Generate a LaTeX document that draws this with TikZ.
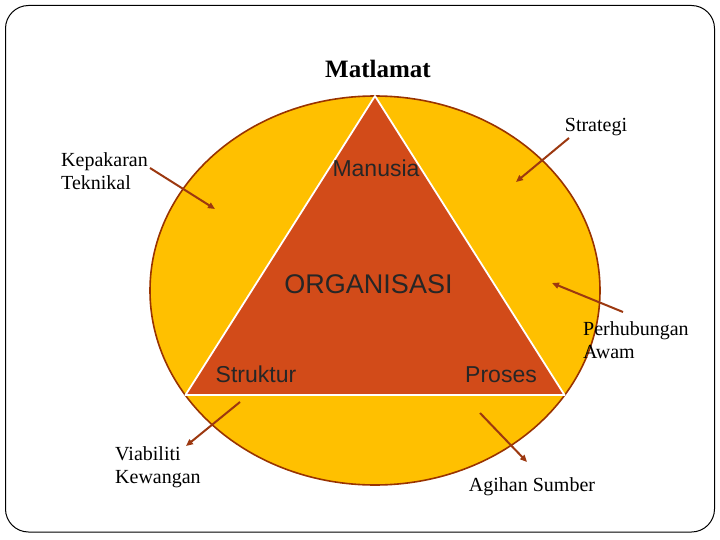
\documentclass[tikz,border=0pt]{standalone}
\usepackage{fontspec}
\setmainfont{Liberation Serif}
\setsansfont{Liberation Sans}
\usetikzlibrary{arrows.meta,positioning}
\definecolor{ringfill}{HTML}{FFC000}
\definecolor{ringline}{HTML}{993300}
\definecolor{trifill}{HTML}{D24B19}
\definecolor{arrcol}{HTML}{9C3810}

\begin{document}
\begin{tikzpicture}[x=1pt, y=-1pt, font=\fontsize{20}{23}\selectfont]
\tikzset{
  lbl/.style={inner sep=0pt, align=left, anchor=base west},
  sans/.style={inner sep=0pt, anchor=base, font=\sffamily\fontsize{23}{27}\selectfont, text=black!85},
  arr/.style={-{Triangle[length=7pt,width=6pt]}, line width=2pt, draw=arrcol},
}
\useasboundingbox (0,0) rectangle (720,540);
\draw[line width=1pt, rounded corners=23pt] (5.5,5.5) rectangle (714.5,532);

% circle and triangle
\draw[fill=ringfill, draw=ringline, line width=1.6pt] (375,290.5) ellipse [x radius=225, y radius=194.5];
\coordinate (top) at (375,96);
\coordinate (bl) at (185.5,395);
\coordinate (br) at (564.5,395);
\filldraw[fill=trifill, draw=white, line width=1.8pt, line join=round] (top) -- (bl) -- (br) -- cycle;

% texts
\node[inner sep=0pt, anchor=base, font=\bfseries\fontsize{25}{28}\selectfont] (goal) at (378,78) {Matlamat};
\node[sans] (man) at (376,177) {Manusia};
\node[sans, font=\sffamily\fontsize{27}{31}\selectfont] (org) at (368.5,293) {ORGANISASI};
\node[sans] (str) at (256,382) {Struktur};
\node[sans] (pro) at (501,382) {Proses};

\node[lbl] (kep) at (61,190) {Kepakaran\\Teknikal};
\node[inner sep=0pt, anchor=base] (strat) at (596,132) {Strategi};
\node[lbl] (awam) at (583,358) {Perhubungan\\Awam};
\node[lbl] (via) at (115,483) {Viabiliti\\Kewangan};
\node[inner sep=0pt, anchor=base] (agih) at (532,491) {Agihan Sumber};

% arrows
\coordinate (kep-s) at (150,168);
\coordinate (kep-e) at (215,209);
\coordinate (strat-s) at (569,138);
\coordinate (strat-e) at (516,182);
\coordinate (awam-s) at (623,312);
\coordinate (awam-e) at (552,283);
\coordinate (via-s) at (240,402);
\coordinate (via-e) at (186,446);
\coordinate (agih-s) at (480,413);
\coordinate (agih-e) at (527,462);
\draw[arr] (kep-s) -- (kep-e);
\draw[arr] (strat-s) -- (strat-e);
\draw[arr] (awam-s) -- (awam-e);
\draw[arr] (via-s) -- (via-e);
\draw[arr] (agih-s) -- (agih-e);
\end{tikzpicture}
\end{document}
